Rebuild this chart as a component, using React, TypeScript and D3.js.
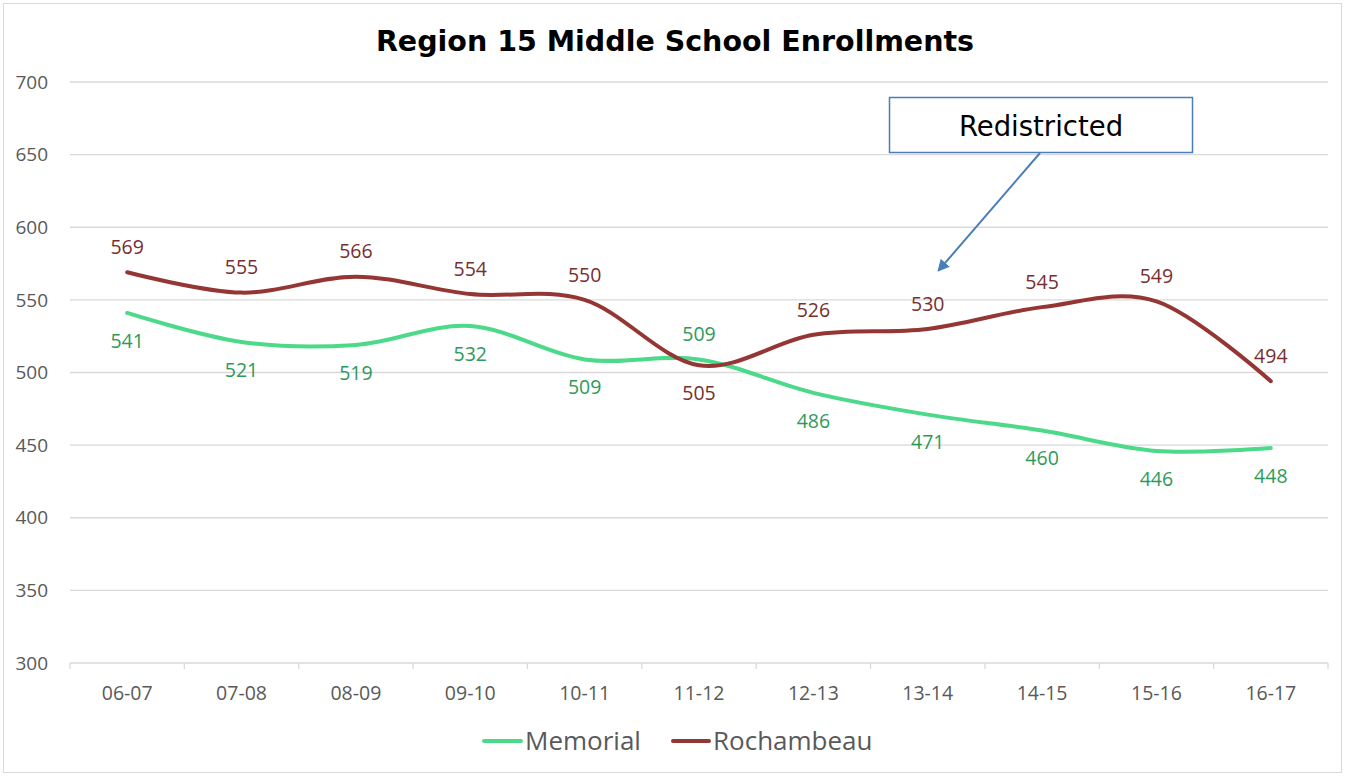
import React from "react";
import * as d3 from "d3";

const categories = ["06-07", "07-08", "08-09", "09-10", "10-11", "11-12", "12-13", "13-14", "14-15", "15-16", "16-17"];
const memorial = [541, 521, 519, 532, 509, 509, 486, 471, 460, 446, 448];
const rochambeau = [569, 555, 566, 554, 550, 505, 526, 530, 545, 549, 494];
// label placement: true = above the point
const memorialAbove = [false, false, false, false, false, true, false, false, false, false, false];
const rochambeauAbove = [true, true, true, true, true, false, true, true, true, true, true];
const yTicks = [300, 350, 400, 450, 500, 550, 600, 650, 700];
const title = "Region 15 Middle School Enrollments";
const annotation = "Redistricted";

const W = 1346, H = 776;
const left = 70, right = 1328, top = 82, bottom = 663;

export default function App() {
  const x = d3.scaleBand<string>().domain(categories).range([left, right]).padding(0);
  const y = d3.scaleLinear().domain([300, 700]).range([bottom, top]);
  const cx = (c: string) => (x(c) as number) + x.bandwidth() / 2;
  const line = d3.line<number>().x((_, i) => cx(categories[i])).y((d) => y(d)).curve(d3.curveCardinal.tension(0));

  const series = [
    { name: "Memorial", values: memorial, above: memorialAbove, color: "#4cd98a", label: "#2e9a5a" },
    { name: "Rochambeau", values: rochambeau, above: rochambeauAbove, color: "#943634", label: "#772f2f" },
  ];
  const fontUI = "'Open Sans', sans-serif";
  const boundaries = categories.map((c) => x(c) as number).concat([right]);

  return (
    <svg width={W} height={H} style={{ position: "absolute", left: 0, top: 0, background: "#fff" }}>
      <defs>
        <marker id="ah" viewBox="0 0 10 10" refX="8" refY="5" markerWidth="6" markerHeight="6" orient="auto-start-reverse">
          <path d="M0,0 L10,5 L0,10 z" fill="#4a7ebb" />
        </marker>
      </defs>
      <rect x={3.5} y={3.5} width={1338} height={769} fill="#fff" stroke="#d9d9d9" />
      <text x={675} y={51} textAnchor="middle" fontFamily="'DejaVu Sans', sans-serif" fontWeight="bold" fontSize={28.5} fill="#000">
        {title}
      </text>
      {yTicks.map((t) => (
        <g key={t}>
          <line x1={left} x2={right} y1={y(t)} y2={y(t)} stroke="#d9d9d9" strokeWidth={1.3} />
          <text x={48} y={y(t)} dy="0.35em" textAnchor="end" fontFamily={fontUI} fontSize={19} fill="#595959">{t}</text>
        </g>
      ))}
      {boundaries.map((b, i) => (
        <line key={i} x1={b} x2={b} y1={bottom} y2={bottom + 6} stroke="#d9d9d9" strokeWidth={1.3} />
      ))}
      {categories.map((c) => (
        <text key={c} x={cx(c)} y={693} dy="0.35em" textAnchor="middle" fontFamily={fontUI} fontSize={19.5} fill="#595959">{c}</text>
      ))}
      {series.map((s) => (
        <g key={s.name}>
          <path d={line(s.values) || ""} fill="none" stroke={s.color} strokeWidth={4} strokeLinecap="round" />
          {s.values.map((v, i) => (
            <text key={i} x={cx(categories[i])} y={y(v) + (s.above[i] ? -25 : 28)} dy="0.35em" textAnchor="middle" fontFamily={fontUI} fontSize={19.5} fill={s.label}>
              {v}
            </text>
          ))}
        </g>
      ))}
      <rect x={889.5} y={97.5} width={303} height={55} fill="#fff" stroke="#4a7ebb" strokeWidth={1.5} />
      <text x={1041} y={126} dy="0.35em" textAnchor="middle" fontFamily="'DejaVu Sans', sans-serif" fontSize={27.5} fill="#000">{annotation}</text>
      <line x1={1040} y1={153} x2={939} y2={270} stroke="#4a7ebb" strokeWidth={2} markerEnd="url(#ah)" />
      <g>
        <line x1={484} x2={521} y1={741} y2={741} stroke={series[0].color} strokeWidth={4} strokeLinecap="round" />
        <text x={525} y={741} dy="0.35em" fontFamily={fontUI} fontSize={26} fill="#595959">Memorial</text>
        <line x1={673} x2={709} y1={741} y2={741} stroke={series[1].color} strokeWidth={4} strokeLinecap="round" />
        <text x={713} y={741} dy="0.35em" fontFamily={fontUI} fontSize={26} fill="#595959">Rochambeau</text>
      </g>
    </svg>
  );
}
